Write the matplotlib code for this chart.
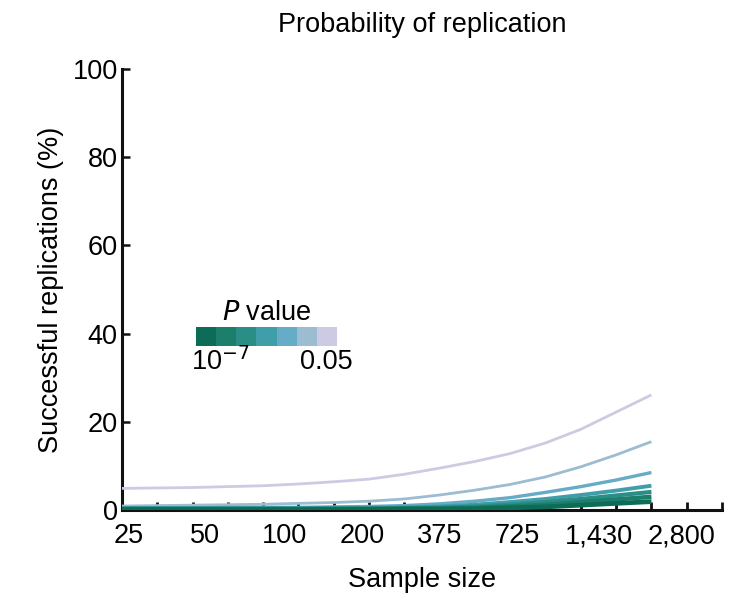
import numpy as np
import matplotlib.pyplot as plt

plt.rcParams['font.family'] = ['Liberation Sans', 'DejaVu Sans']

# sample-size steps along the x axis (index positions of the simulated sizes)
steps = np.arange(16)

# successful replications (%) for each P-value threshold, lightest (0.05) first
rep_005 = [4.9, 5.0, 5.1, 5.3, 5.5, 5.9, 6.4, 7.0, 8.1, 9.5, 11.0, 12.8, 15.2, 18.3, 22.2, 26.1]
rep_p2 = [0.9, 1.0, 1.1, 1.2, 1.3, 1.5, 1.7, 2.0, 2.5, 3.4, 4.5, 5.8, 7.5, 9.8, 12.5, 15.5]
rep_p3 = [0.5, 0.5, 0.5, 0.6, 0.6, 0.6, 0.7, 0.8, 1.0, 1.4, 2.0, 2.8, 4.0, 5.3, 6.8, 8.5]
rep_p4 = [0.4, 0.4, 0.4, 0.4, 0.4, 0.4, 0.5, 0.5, 0.6, 0.8, 1.2, 1.8, 2.5, 3.4, 4.4, 5.5]
rep_p5 = [0.3, 0.3, 0.3, 0.3, 0.3, 0.3, 0.3, 0.4, 0.4, 0.5, 0.8, 1.2, 1.8, 2.5, 3.3, 4.1]
rep_p6 = [0.2, 0.2, 0.2, 0.2, 0.2, 0.2, 0.2, 0.2, 0.3, 0.4, 0.5, 0.8, 1.2, 1.8, 2.4, 3.0]
rep_1e7 = [0.1, 0.1, 0.1, 0.1, 0.1, 0.1, 0.1, 0.1, 0.2, 0.2, 0.3, 0.5, 0.7, 1.1, 1.5, 1.9]

curves = [rep_005, rep_p2, rep_p3, rep_p4, rep_p5, rep_p6, rep_1e7]
colors = ['#cccbe3', '#9cbcd2', '#66acc6', '#3f9ea8', '#2a8e86', '#1b7f6c', '#0c6c56']
widths = [2.0, 2.0, 2.4, 2.8, 3.0, 3.2, 3.4]

size_labels = ['25', '50', '100', '200', '375', '725', '1,430', '2,800']
label_pos = [0.2, 2.36, 4.6, 6.8, 9.0, 11.2, 13.52, 15.85]

fig = plt.figure(figsize=(7.35, 5.96), dpi=100)
ax = fig.add_axes([122 / 735, 1 - 510 / 596, 600 / 735, 441 / 596])

for vals, col, lw in zip(curves, colors, widths):
    ax.plot(steps, vals, color=col, linewidth=lw, solid_capstyle='butt', zorder=3)

ax.set_xlim(0, 17)
ax.set_ylim(0, 100)
ax.set_axisbelow(True)

ax.set_xticks(label_pos)
ax.set_xticklabels(size_labels)
for lab in ax.get_xticklabels():
    lab.set_verticalalignment('baseline')
ax.set_xticks(np.arange(1, 18), minor=True)
ax.tick_params(axis='x', which='major', length=0, pad=24, labelsize=19.5)
ax.tick_params(axis='x', which='minor', direction='in', length=6, width=2, color='#111111')
ax.set_yticks([0, 20, 40, 60, 80, 100])
ax.tick_params(axis='y', direction='in', length=6, width=1.8, pad=3, labelsize=19.5, color='#111111')

for side in ['top', 'right']:
    ax.spines[side].set_visible(False)
for side in ['left', 'bottom']:
    ax.spines[side].set_linewidth(2.2)
    ax.spines[side].set_color('#111111')

ax.set_xlabel('Sample size', fontsize=19.5, labelpad=13)
ax.set_ylabel('Successful replications (%)', fontsize=19.5, labelpad=6)
ax.set_title('Probability of replication', fontsize=19.5, pad=27)

# P-value colour key
key = fig.add_axes([196 / 735, 1 - 346 / 596, 141 / 735, 19 / 596])
for i, col in enumerate(colors[::-1]):
    key.bar(i, 1, width=1.0, color=col, linewidth=0)
key.set_xlim(-0.5, len(colors) - 0.5)
key.set_ylim(0, 1)
key.axis('off')

fig.text(267 / 735, 1 - 313 / 596, r'$\it{P}$ value', fontsize=19.5, ha='center', va='center')
fig.text(191 / 735, 1 - 362 / 596, r'10$^{-7}$', fontsize=19.5, ha='left', va='center')
fig.text(353 / 735, 1 - 362 / 596, '0.05', fontsize=19.5, ha='right', va='center')

fig.savefig('out.png', dpi=100)
